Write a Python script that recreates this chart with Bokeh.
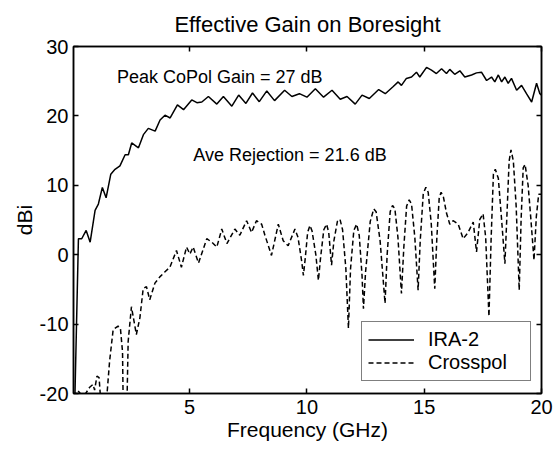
from bokeh.plotting import figure
from bokeh.models import Range1d, LinearAxis, FixedTicker, Label, Legend, LegendItem
from bokeh.embed import file_html
from bokeh.resources import INLINE

# ---- data ----
freq_copol = [0.1, 0.26, 0.4, 0.59, 0.76, 0.97, 1.11, 1.28, 1.44, 1.64, 1.82, 2.03, 2.25, 2.39,
              2.53, 2.82, 3.03, 3.24, 3.53, 3.74, 3.95, 4.17, 4.48, 4.74, 5.09, 5.31, 5.52, 5.8,
              6.16, 6.44, 6.8, 7.09, 7.4, 7.68, 7.97, 8.29, 8.62, 9.05, 9.36, 9.68, 10.0, 10.36,
              10.71, 11.07, 11.42, 11.71, 12.06, 12.35, 12.66, 13.06, 13.34, 13.67, 13.89, 14.03,
              14.24, 14.46, 14.67, 14.81, 15.1, 15.31, 15.52, 15.74, 15.95, 16.09, 16.3, 16.52,
              16.73, 17.02, 17.23, 17.44, 17.66, 17.87, 18.01, 18.16, 18.3, 18.44, 18.58, 18.72,
              18.94, 19.15, 19.36, 19.58, 19.79, 19.93, 20.0]
gain_copol = [-22, 2.3, 2.3, 3.5, 1.8, 6.4, 7.3, 9.7, 8.2, 11.6, 12.3, 12.8, 14.4, 14.4,
              16.1, 15.4, 17.3, 18.2, 17.8, 19.4, 20.1, 19.7, 21.6, 20.9, 22.3, 21.9, 22.0, 22.8,
              21.7, 22.8, 21.4, 23.0, 21.8, 23.3, 22.05, 23.6, 22.2, 23.7, 22.8, 23.2, 22.7, 23.9,
              22.7, 23.7, 22.4, 22.8, 21.7, 23.0, 22.5, 23.8, 23.2, 24.2, 24.9, 24.4,
              25.4, 25.6, 26.3, 25.6, 27.0, 26.6, 26.1, 26.8, 26.1, 26.7, 26.0, 26.5,
              25.6, 25.9, 26.2, 26.3, 25.1, 25.6, 24.9, 25.9, 24.9, 25.6, 24.7, 25.4,
              23.7, 24.4, 23.2, 22.0, 24.7, 23.2, 23.0]

freq_cross = [0.05, 0.24, 0.39, 0.55, 0.74, 0.88, 0.95, 1.05, 1.14, 1.21, 1.3, 1.42, 1.48, 1.59,
              1.74, 1.95, 2.05, 2.14, 2.2, 2.28, 2.38, 2.52, 2.73, 2.88, 3.02, 3.16, 3.3, 3.52,
              3.73, 3.94, 4.16, 4.44, 4.65, 4.87, 5.01, 5.15, 5.38, 5.73, 5.95, 6.16, 6.37, 6.59,
              6.93, 7.14, 7.43, 7.64, 7.85, 8.07, 8.21, 8.49, 8.78, 8.99, 9.2, 9.49, 9.62, 9.78,
              9.85, 9.93, 10.03, 10.13, 10.22, 10.38, 10.49, 10.58, 10.72, 10.84, 10.93, 11.05,
              11.15, 11.3, 11.41, 11.52, 11.66, 11.77, 11.86, 12.0, 12.12, 12.23, 12.35, 12.41,
              12.5, 12.7, 12.85, 12.95, 13.12, 13.33, 13.42, 13.55, 13.65, 13.75, 13.88, 14.03,
              14.13, 14.25, 14.36, 14.46, 14.6, 14.74, 14.83, 14.96, 15.07, 15.17, 15.3, 15.45,
              15.54, 15.64, 15.72, 15.82, 15.95, 16.09, 16.23, 16.45, 16.66, 16.87, 17.09, 17.23,
              17.37, 17.51, 17.62, 17.76, 17.85, 17.95, 18.03, 18.16, 18.3, 18.44, 18.53, 18.62,
              18.7, 18.8, 18.92, 19.05, 19.13, 19.22, 19.3, 19.43, 19.55, 19.68, 19.78, 19.88, 20.0]
gain_cross = [-20.5, -19.6, -20.2, -20.1, -19.1, -18.7, -19.5, -17.5, -17.7, -21, -28, -28, -20, -15.3,
              -10.8, -10.3, -10.6, -14, -30, -30, -12.5, -7.5, -11.5, -9.1, -4.9, -4.6, -6.5, -4.1,
              -3.2, -2.5, -1.8, 0.6, -1.8, 1.1, 0.1, 1.1, -1.2, 2.3, 1.8, 1.1, 3.7, 1.6,
              3.7, 2.8, 4.9, 3.2, 4.9, 4.4, 2.8, -0.1, 4.4, 2.0, 1.3, 3.7, 2.5, -1.0,
              -3.0, -0.5, 3.2, 4.2, 3.4, 0.0, -3.7, -0.5, 3.6, 4.4, 3.2, -1.5,
              2.0, 4.8, 5.1, 3.6, -2.0, -10.6, -2.0, 3.5, 4.4, 2.8, -3.0, -7.8,
              -2.5, 4.8, 6.6, 6.2, 2.0, -7.0, 0.0, 6.2, 7.1, 6.6, 2.5, -5.6,
              1.0, 7.0, 7.9, 7.3, 2.5, -5.1, 2.0, 8.8, 9.7, 9.0, 4.5, -4.9,
              2.5, 8.2, 9.0, 8.3, 6.0, 4.4, 4.9, 4.4, 2.3, 3.2, 4.7, 0.4,
              5.1, 5.9, 2.5, -8.9, 2.0, 11.6, 12.3, 11.0, 5.0, -1.3, 6.0, 13.5,
              15.1, 13.5, 7.0, -5.1, 5.0, 12.5, 13.0, 10.0, 5.0, -0.8, 5.5, 8.7, 8.7]

x_ticks = [5, 10, 15, 20]
y_ticks = [-20, -10, 0, 10, 20, 30]
y_tick_labels = {-20: "-20", -10: "-10", 0: "0", 10: "10", 20: "20", 30: "30"}

FONT = "Liberation Sans"

p = figure(width=557, height=449, output_backend="svg", toolbar_location=None,
           x_range=Range1d(0.05, 20), y_range=Range1d(-20, 30),
           min_border_left=73, min_border_right=16, min_border_top=43, min_border_bottom=56,
           title="Effective Gain on Boresight")
p.background_fill_color = "white"
p.border_fill_color = "white"
p.grid.visible = False
p.outline_line_color = "black"
p.outline_line_width = 1.5

p.title.text_font = FONT
p.title.text_font_size = "22px"
p.title.text_font_style = "normal"
p.title.align = "center"
p.title.text_color = "black"
p.title.standoff = 19

r1 = p.line(freq_copol, gain_copol, line_color="black", line_width=1.5)
r2 = p.line(freq_cross, gain_cross, line_color="black", line_width=1.5, line_dash="5 3")

def style_axis(ax, ticks, show_labels):
    ax.ticker = FixedTicker(ticks=ticks)
    ax.minor_tick_line_color = None
    ax.major_tick_in = 5
    ax.major_tick_out = 0
    ax.major_tick_line_width = 1.5
    ax.axis_line_width = 1.5
    ax.axis_line_color = "black"
    ax.major_tick_line_color = "black"
    ax.major_label_text_font = FONT
    if show_labels:
        ax.major_label_text_color = "black"
        ax.major_label_text_font_size = "20px"
        ax.major_label_standoff = 6
    else:
        ax.major_label_text_color = None
        ax.major_label_text_alpha = 0
        ax.major_label_text_font_size = "0px"
        ax.major_label_standoff = 0

style_axis(p.xaxis[0], x_ticks, True)
style_axis(p.yaxis[0], y_ticks, True)
p.yaxis[0].major_label_overrides = y_tick_labels
p.yaxis[0].major_label_standoff = 5
p.xaxis[0].axis_label = "Frequency (GHz)"
p.yaxis[0].axis_label = "dBi"
for ax in (p.xaxis[0], p.yaxis[0]):
    ax.axis_label_text_font = FONT
    ax.axis_label_text_font_size = "21px"
    ax.axis_label_text_font_style = "normal"
    ax.axis_label_text_color = "black"
    ax.axis_label_standoff = 1

top = LinearAxis()
right = LinearAxis()
style_axis(top, x_ticks, False)
style_axis(right, y_ticks, False)
p.add_layout(top, "above")
p.add_layout(right, "right")

p.add_layout(Label(x=1.9, y=25.6, text="Peak CoPol Gain = 27 dB", text_font=FONT,
                   text_font_size="18px", text_baseline="alphabetic", text_color="black"))
p.add_layout(Label(x=5.16, y=14.43, text="Ave Rejection = 21.6 dB", text_font=FONT,
                   text_font_size="18px", text_baseline="alphabetic", text_color="black"))

legend = Legend(items=[LegendItem(label="IRA-2", renderers=[r1]),
                       LegendItem(label="Crosspol", renderers=[r2])],
                location=(288, 12), padding=6, spacing=0, margin=0,
                glyph_width=46, glyph_height=23, label_height=23, label_width=96,
                label_standoff=14, label_text_font=FONT, label_text_font_size="20px",
                label_text_color="black", border_line_color="black", border_line_width=1.5,
                background_fill_color="white", background_fill_alpha=1.0)
p.add_layout(legend)

open("out.html", "w").write(file_html(p, INLINE))
